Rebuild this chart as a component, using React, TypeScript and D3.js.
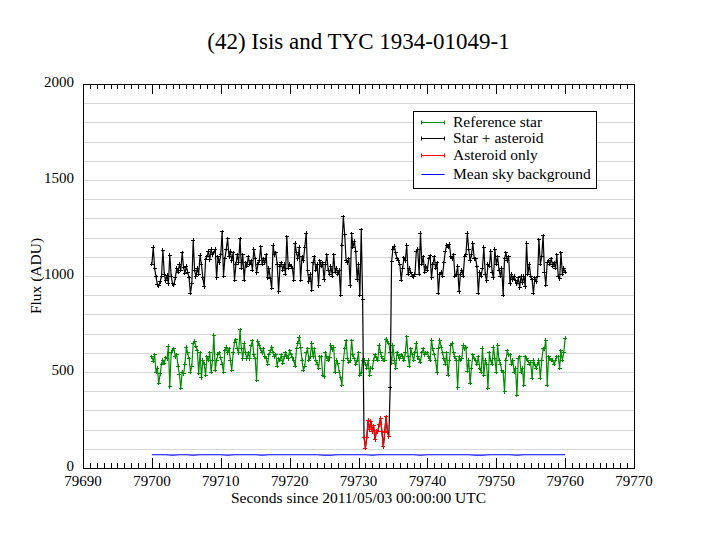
import React, { useRef, useEffect } from 'react';
import * as d3 from 'd3';

// Photometry sampled every 0.2 s starting at 79700 s
const startTime = 79700;
const frameStep = 0.2;

const referenceStar = [
  580, 555, 590, 500, 520, 441, 490, 540, 560, 545,
  575, 570, 635, 423, 600, 610, 620, 580, 590, 530,
  485, 415, 500, 490, 540, 630, 600, 570, 500, 530,
  650, 660, 635, 610, 493, 600, 470, 560, 540, 484,
  580, 560, 600, 500, 560, 692, 510, 560, 590, 600,
  575, 540, 500, 610, 630, 600, 620, 560, 510, 600,
  655, 667, 620, 600, 719, 620, 570, 650, 600, 570,
  600, 570, 640, 663, 590, 570, 458, 660, 640, 620,
  600, 620, 580, 570, 540, 590, 610, 630, 600, 580,
  590, 530, 570, 560, 590, 545, 580, 600, 585, 570,
  610, 590, 575, 560, 530, 620, 650, 680, 630, 560,
  510, 530, 600, 620, 560, 580, 650, 580, 620, 560,
  540, 520, 580, 580, 484, 476, 600, 580, 560, 575,
  640, 615, 630, 500, 560, 545, 500, 470, 432, 560,
  620, 664, 570, 550, 560, 664, 590, 570, 540, 560,
  600, 484, 500, 560, 560, 540, 520, 560, 484, 520,
  520, 560, 590, 575, 560, 640, 600, 580, 560, 560,
  670, 660, 650, 600, 545, 640, 560, 520, 600, 585,
  570, 590, 580, 560, 600, 684, 580, 530, 620, 590,
  560, 600, 650, 580, 565, 550, 600, 620, 590, 600,
  600, 580, 560, 666, 620, 590, 560, 495, 620, 666,
  630, 600, 570, 540, 600, 484, 560, 640, 650, 600,
  580, 560, 418, 580, 560, 570, 640, 620, 630, 505,
  560, 441, 520, 590, 570, 560, 540, 580, 520, 500,
  625, 484, 560, 540, 415, 600, 560, 540, 630, 570,
  500, 640, 560, 540, 510, 500, 398, 560, 610, 590,
  590, 540, 560, 500, 520, 380, 570, 580, 500, 520,
  430, 580, 570, 560, 540, 550, 467, 560, 540, 520,
  540, 560, 467, 560, 620, 620, 666, 432, 580, 570,
  560, 560, 540, 560, 580, 580, 520, 610, 560, 600,
  675,
];

// Star + asteroid before the disappearance
const beforeEvent = [
  1060, 1150, 1040, 995, 955, 950, 970, 1000, 1135, 1010,
  975, 1005, 960, 1109, 1000, 960, 955, 990, 1040, 1020,
  1060, 1030, 1120, 1045, 1015, 1050, 1020, 990, 911, 960,
  1187, 1030, 995, 1040, 1010, 1109, 1060, 990, 944, 1085,
  1100, 1130, 1085, 1140, 1110, 1120, 1140, 990, 1100, 1070,
  1110, 1231, 1000, 1090, 1140, 1195, 1100, 1130, 1080, 1120,
  979, 1060, 1110, 1070, 1195, 1040, 1110, 979, 1070, 1050,
  1100, 1060, 1080, 1030, 1140, 1090, 1018, 1060, 1080, 1153,
  1060, 1090, 1070, 1110, 990, 1040, 985, 937, 1160, 1110,
  1120, 1060, 918, 1050, 1070, 1030, 1060, 1010, 1205, 1040,
  1060, 1049, 1040, 979, 1170, 1120, 1090, 1150, 979, 1100,
  1080, 1150, 1223, 1030, 970, 1010, 927, 1070, 1100, 1030,
  1060, 950, 1080, 1050, 1070, 980, 1060, 1110, 1030, 1010,
  1050, 1000, 1110, 1020, 1040, 1010, 1030, 901, 1160, 1309,
  1215, 1080, 1070, 1090, 950, 1220, 1150, 1180, 1130, 980,
  1060, 901, 1240, 880,
];

// Occultation: only the asteroid remains
const asteroidOnly = [
  160, 104, 158, 250, 198, 243, 189, 220, 146, 195,
  190, 226, 260, 190, 111, 185, 266, 190, 163,
];

// Star + asteroid after the reappearance
const afterEvent = [
  417, 1073,
  1140, 1155, 1120, 1090, 1080, 1060, 979, 1040, 1095, 1080,
  1160, 1010, 1040, 1020, 1000, 995, 1010, 1130, 1140, 1010,
  1223, 1060, 1100, 1020, 1050, 1030, 1090, 1105, 990, 1060,
  1100, 1040, 1070, 910, 1010, 1020, 1000, 1070, 1130, 1160,
  1150, 1165, 1100, 1090, 1110, 1000, 1010, 1050, 917, 1010,
  1030, 1000, 1100, 1110, 1222, 1140, 1080, 1110, 1170, 1090,
  1090, 1050, 910, 1020, 1000, 1040, 1150, 1010, 975, 1060,
  1050, 1130, 1020, 990, 1140, 1060, 1100, 1030, 1000, 1040,
  901, 1090, 1120, 1080, 1100, 960, 1010, 980, 1000, 975,
  960, 990, 940, 1000, 965, 1000, 945, 1170, 1010, 1060,
  1000, 980, 910, 990, 970, 1000, 1190, 1060, 1100, 1210,
  1020, 953, 1070, 1080, 1060, 1090, 1050, 1070, 1040, 1110,
  1000, 985, 1120, 1010, 1040,
  1020,
];

// Mean sky background, one value per second
const skyStep = 1;
const skyBackground = [
  69, 69, 69, 67, 69, 69, 67, 69, 69, 69,
  69, 67, 69, 69, 69, 69, 67, 69, 69, 69,
  69, 69, 69, 69, 69, 67, 67, 69, 69, 69,
  69, 69, 67, 69, 69, 69, 69, 69, 69, 67,
  69, 69, 69, 69, 69, 69, 69, 67, 67, 69,
  69, 69, 69, 67, 69, 69, 69, 69, 69, 69,
  69,
];

const xTickLabels = [79690, 79700, 79710, 79720, 79730, 79740, 79750, 79760, 79770];
const yTickLabels = [0, 500, 1000, 1500, 2000];
const seriesNames = ['Reference star', 'Star + asteroid', 'Asteroid only', 'Mean sky background'];
const seriesColors = ['#008c00', '#000000', '#ff0000', '#0000ff'];

const W = 713;
const H = 551;
const FONT = "'Liberation Serif', 'DejaVu Serif', serif";

const App: React.FC = () => {
  const svgRef = useRef<SVGSVGElement>(null);

  useEffect(() => {
    if (!svgRef.current) return;
    const svg = d3.select(svgRef.current);
    svg.selectAll('*').remove();

    const margin = { top: 84, right: 79, bottom: 83, left: 83 };
    const xDomain = [xTickLabels[0], xTickLabels[xTickLabels.length - 1]];
    const yDomain = [yTickLabels[0], yTickLabels[yTickLabels.length - 1]];

    const x = d3.scaleLinear().domain(xDomain).range([margin.left, W - margin.right]);
    const y = d3.scaleLinear().domain(yDomain).range([H - margin.bottom, margin.top]);
    const [x0, x1] = x.range();
    const [y0, y1] = y.range();

    // horizontal grid every 100 ADU
    svg.append('g')
      .selectAll('line')
      .data(d3.range(yDomain[0] + 100, yDomain[1], 100))
      .join('line')
      .attr('x1', x0).attr('x2', x1)
      .attr('y1', d => Math.round(y(d)) + 0.5).attr('y2', d => Math.round(y(d)) + 0.5)
      .attr('stroke', '#d6d6d6')
      .attr('stroke-width', 1);

    // frame
    svg.append('rect')
      .attr('x', x0 + 0.5).attr('y', y1 + 0.5)
      .attr('width', x1 - x0).attr('height', y0 - y1)
      .attr('fill', 'none').attr('stroke', '#000').attr('stroke-width', 1);

    // x ticks, every second, long ones every 10 s, on bottom and top
    const secs = d3.range(xDomain[0], xDomain[1] + 1, 1);
    const ticks = svg.append('g').attr('stroke', '#000').attr('stroke-width', 1);
    secs.forEach(s => {
      const len = s % 10 === 0 ? 10 : 5;
      const px = Math.round(x(s)) + 0.5;
      ticks.append('line').attr('x1', px).attr('x2', px).attr('y1', y0).attr('y2', y0 - len);
      ticks.append('line').attr('x1', px).attr('x2', px).attr('y1', y1).attr('y2', y1 + len);
    });

    // tick labels
    svg.append('g')
      .selectAll('text')
      .data(xTickLabels)
      .join('text')
      .attr('x', d => x(d))
      .attr('y', y0 + 18)
      .attr('text-anchor', 'middle')
      .style('font-family', FONT)
      .style('font-size', '15px')
      .text(d => d);

    svg.append('g')
      .selectAll('text')
      .data(yTickLabels)
      .join('text')
      .attr('x', x0 - 9)
      .attr('y', d => y(d) + 3)
      .attr('text-anchor', 'end')
      .style('font-family', FONT)
      .style('font-size', '15px')
      .text(d => d);

    // axis titles
    svg.append('text')
      .attr('x', (x0 + x1) / 2)
      .attr('y', y0 + 35)
      .attr('text-anchor', 'middle')
      .style('font-family', FONT)
      .style('font-size', '15.5px')
      .text('Seconds since 2011/05/03 00:00:00 UTC');

    svg.append('text')
      .attr('transform', `translate(${x0 - 42}, ${(y0 + y1) / 2}) rotate(-90)`)
      .attr('text-anchor', 'middle')
      .style('font-family', FONT)
      .style('font-size', '15.5px')
      .text('Flux (ADU)');

    svg.append('text')
      .attr('x', (x0 + x1) / 2)
      .attr('y', 49)
      .attr('text-anchor', 'middle')
      .style('font-family', FONT)
      .style('font-size', '23px')
      .text('(42) Isis and TYC 1934-01049-1');

    // series
    const starPlusAsteroid = [...beforeEvent, ...asteroidOnly, ...afterEvent];
    const eventStart = startTime + beforeEvent.length * frameStep;

    const plotSeries = (values: number[], t0: number, step: number, color: string, markers: boolean) => {
      const pts = values.map((v, i) => [x(t0 + i * step), y(v)] as [number, number]);
      svg.append('path')
        .attr('d', d3.line()(pts) || '')
        .attr('fill', 'none')
        .attr('stroke', color)
        .attr('stroke-width', 1.2)
        .attr('stroke-linejoin', 'miter');
      if (markers) {
        const m = pts.map(([px, py]) => `M${px - 2},${py}h4M${px},${py - 2}v4`).join('');
        svg.append('path')
          .attr('d', m)
          .attr('fill', 'none')
          .attr('stroke', color)
          .attr('stroke-width', 1)
          .attr('shape-rendering', 'crispEdges');
      }
    };

    plotSeries(referenceStar, startTime, frameStep, seriesColors[0], true);
    plotSeries(starPlusAsteroid, startTime, frameStep, seriesColors[1], true);
    plotSeries(asteroidOnly, eventStart, frameStep, seriesColors[2], true);
    plotSeries(skyBackground, startTime, skyStep, seriesColors[3], false);

    // legend
    const legend = svg.append('g').attr('transform', 'translate(413.5, 111.5)');
    legend.append('rect')
      .attr('width', 183).attr('height', 77)
      .attr('fill', '#fff').attr('stroke', '#000').attr('stroke-width', 1);
    const rowY = [11, 27, 44, 63];
    seriesNames.forEach((name, i) => {
      const ly = rowY[i];
      legend.append('line')
        .attr('x1', 8).attr('x2', 31).attr('y1', ly).attr('y2', ly)
        .attr('stroke', seriesColors[i]).attr('stroke-width', 1);
      if (i < 3) {
        legend.append('path')
          .attr('d', `M8,${ly - 2}v4M31,${ly - 2}v4`)
          .attr('stroke', seriesColors[i]).attr('stroke-width', 1);
      }
      legend.append('text')
        .attr('x', 39.5)
        .attr('y', ly + 4.5)
        .style('font-family', FONT)
        .style('font-size', '15.5px')
        .text(name);
    });
  }, []);

  return (
    <svg
      ref={svgRef}
      width={W}
      height={H}
      style={{ position: 'absolute', left: 0, top: 0, background: '#fff' }}
    />
  );
};

export default App;
